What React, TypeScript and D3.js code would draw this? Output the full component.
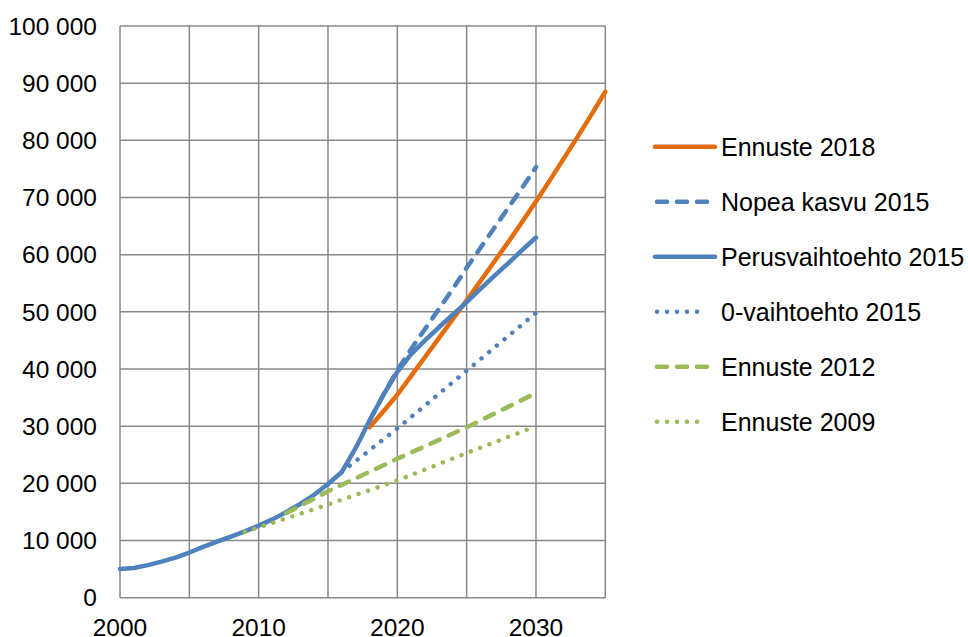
import React from "react";
import * as d3 from "d3";

const seriesNames = [
  "Ennuste 2018",
  "Nopea kasvu 2015",
  "Perusvaihtoehto 2015",
  "0-vaihtoehto 2015",
  "Ennuste 2012",
  "Ennuste 2009",
];

const ennuste2018Years = [2018, 2019, 2020, 2021, 2022, 2023, 2024, 2025, 2026, 2027, 2028, 2029, 2030, 2031, 2032, 2033, 2034, 2035];
const ennuste2018Values = [29800, 32600, 35500, 38800, 42100, 45400, 48700, 52000, 55400, 58800, 62200, 65700, 69300, 73000, 76800, 80600, 84500, 88500];

const nopeaYears = [2018, 2019, 2020, 2021, 2022, 2023, 2024, 2025, 2026, 2027, 2028, 2029, 2030];
const nopeaValues = [31000, 35500, 39800, 43500, 47000, 50500, 54000, 57700, 61200, 64700, 68200, 71700, 75300];

const perusYears = [2000, 2001, 2002, 2003, 2004, 2005, 2006, 2007, 2008, 2009, 2010, 2011, 2012, 2013, 2014, 2015, 2016, 2017, 2018, 2019, 2020, 2021, 2022, 2023, 2024, 2025, 2026, 2027, 2028, 2029, 2030];
const perusValues = [5000, 5200, 5700, 6300, 7000, 7900, 8900, 9800, 10700, 11600, 12600, 13700, 15000, 16400, 18000, 19900, 22000, 26200, 31000, 35500, 39500, 42600, 45000, 47300, 49500, 51700, 54000, 56300, 58500, 60800, 63000];

const nollaYears = [2016, 2020, 2025, 2030];
const nollaValues = [22000, 29600, 39700, 49800];

const ennuste2012Years = [2012, 2015, 2020, 2025, 2030];
const ennuste2012Values = [14800, 18600, 24300, 29800, 35800];

const ennuste2009Years = [2009, 2015, 2020, 2025, 2030];
const ennuste2009Values = [11500, 16300, 20500, 25300, 30000];

const xLabelTicks = [2000, 2010, 2020, 2030];
const xGridTicks = [2000, 2005, 2010, 2015, 2020, 2025, 2030, 2035];
const yTicks = [0, 10000, 20000, 30000, 40000, 50000, 60000, 70000, 80000, 90000, 100000];

const ORANGE = "#E46C0A";
const BLUE = "#4F81BD";
const GREEN = "#9BBB59";

type Style = { color: string; dash: string | null };
const styles: Style[] = [
  { color: ORANGE, dash: null },
  { color: BLUE, dash: "10,10" },
  { color: BLUE, dash: null },
  { color: BLUE, dash: "0.01,9.99" },
  { color: GREEN, dash: "10,10" },
  { color: GREEN, dash: "0.01,9.99" },
];

const seriesData: [number[], number[]][] = [
  [ennuste2018Years, ennuste2018Values],
  [nopeaYears, nopeaValues],
  [perusYears, perusValues],
  [nollaYears, nollaValues],
  [ennuste2012Years, ennuste2012Values],
  [ennuste2009Years, ennuste2009Values],
];

const FONT = "'Liberation Sans', Arial, sans-serif";

export default function App() {
  const W = 968;
  const H = 637;
  const x = d3.scaleLinear().domain([2000, 2035]).range([120, 605.3]);
  const y = d3.scaleLinear().domain([0, 100000]).range([597.7, 26]);
  const fmt = (v: number) => d3.format(",")(v).replace(/,/g, " ");
  const line = d3
    .line<[number, number]>()
    .x((d) => x(d[0]))
    .y((d) => y(d[1]))
    .curve(d3.curveLinear);

  const legendX0 = 655;
  const legendX1 = 715;
  const legendY0 = 146.7;
  const legendStep = 55;

  return (
    <div style={{ position: "absolute", left: 0, top: 0 }}>
      <svg width={W} height={H} style={{ display: "block", background: "#fff" }}>
        {xGridTicks.map((t) => (
          <line key={"gx" + t} x1={x(t)} x2={x(t)} y1={y(0)} y2={y(100000)} stroke="#898989" strokeWidth={1.5} />
        ))}
        {yTicks.map((t) => (
          <line key={"gy" + t} x1={x(2000)} x2={x(2035)} y1={y(t)} y2={y(t)} stroke="#898989" strokeWidth={1.5} />
        ))}
        {yTicks.map((t) => (
          <text key={"ly" + t} x={97} y={y(t) + 8.7} textAnchor="end" fontFamily={FONT} fontSize={24.5} fill="#000">
            {fmt(t)}
          </text>
        ))}
        {xLabelTicks.map((t) => (
          <text key={"lx" + t} x={x(t)} y={635.5} textAnchor="middle" fontFamily={FONT} fontSize={24.5} fill="#000">
            {t}
          </text>
        ))}
        {seriesData.map(([yrs, vals], i) => {
          const pts: [number, number][] = yrs.map((yr, j) => [yr, vals[j]]);
          const s = styles[i];
          return (
            <path
              key={"s" + i}
              d={line(pts) || ""}
              fill="none"
              stroke={s.color}
              strokeWidth={4.5}
              strokeDasharray={s.dash || undefined}
              strokeLinecap="round"
              strokeLinejoin="round"
            />
          );
        })}
        {seriesNames.map((name, i) => {
          const ly = legendY0 + i * legendStep;
          const s = styles[i];
          return (
            <g key={"leg" + i}>
              <line
                x1={legendX0 + (s.dash ? 2 : 0)}
                x2={s.dash && s.dash.startsWith("10") ? 707 : s.dash ? 706 : legendX1}
                y1={ly}
                y2={ly}
                stroke={s.color}
                strokeWidth={4.5}
                strokeDasharray={s.dash || undefined}
                strokeLinecap="round"
              />
              <text x={721} y={ly + 8.8} fontFamily={FONT} fontSize={25} fill="#000">
                {name}
              </text>
            </g>
          );
        })}
      </svg>
    </div>
  );
}
